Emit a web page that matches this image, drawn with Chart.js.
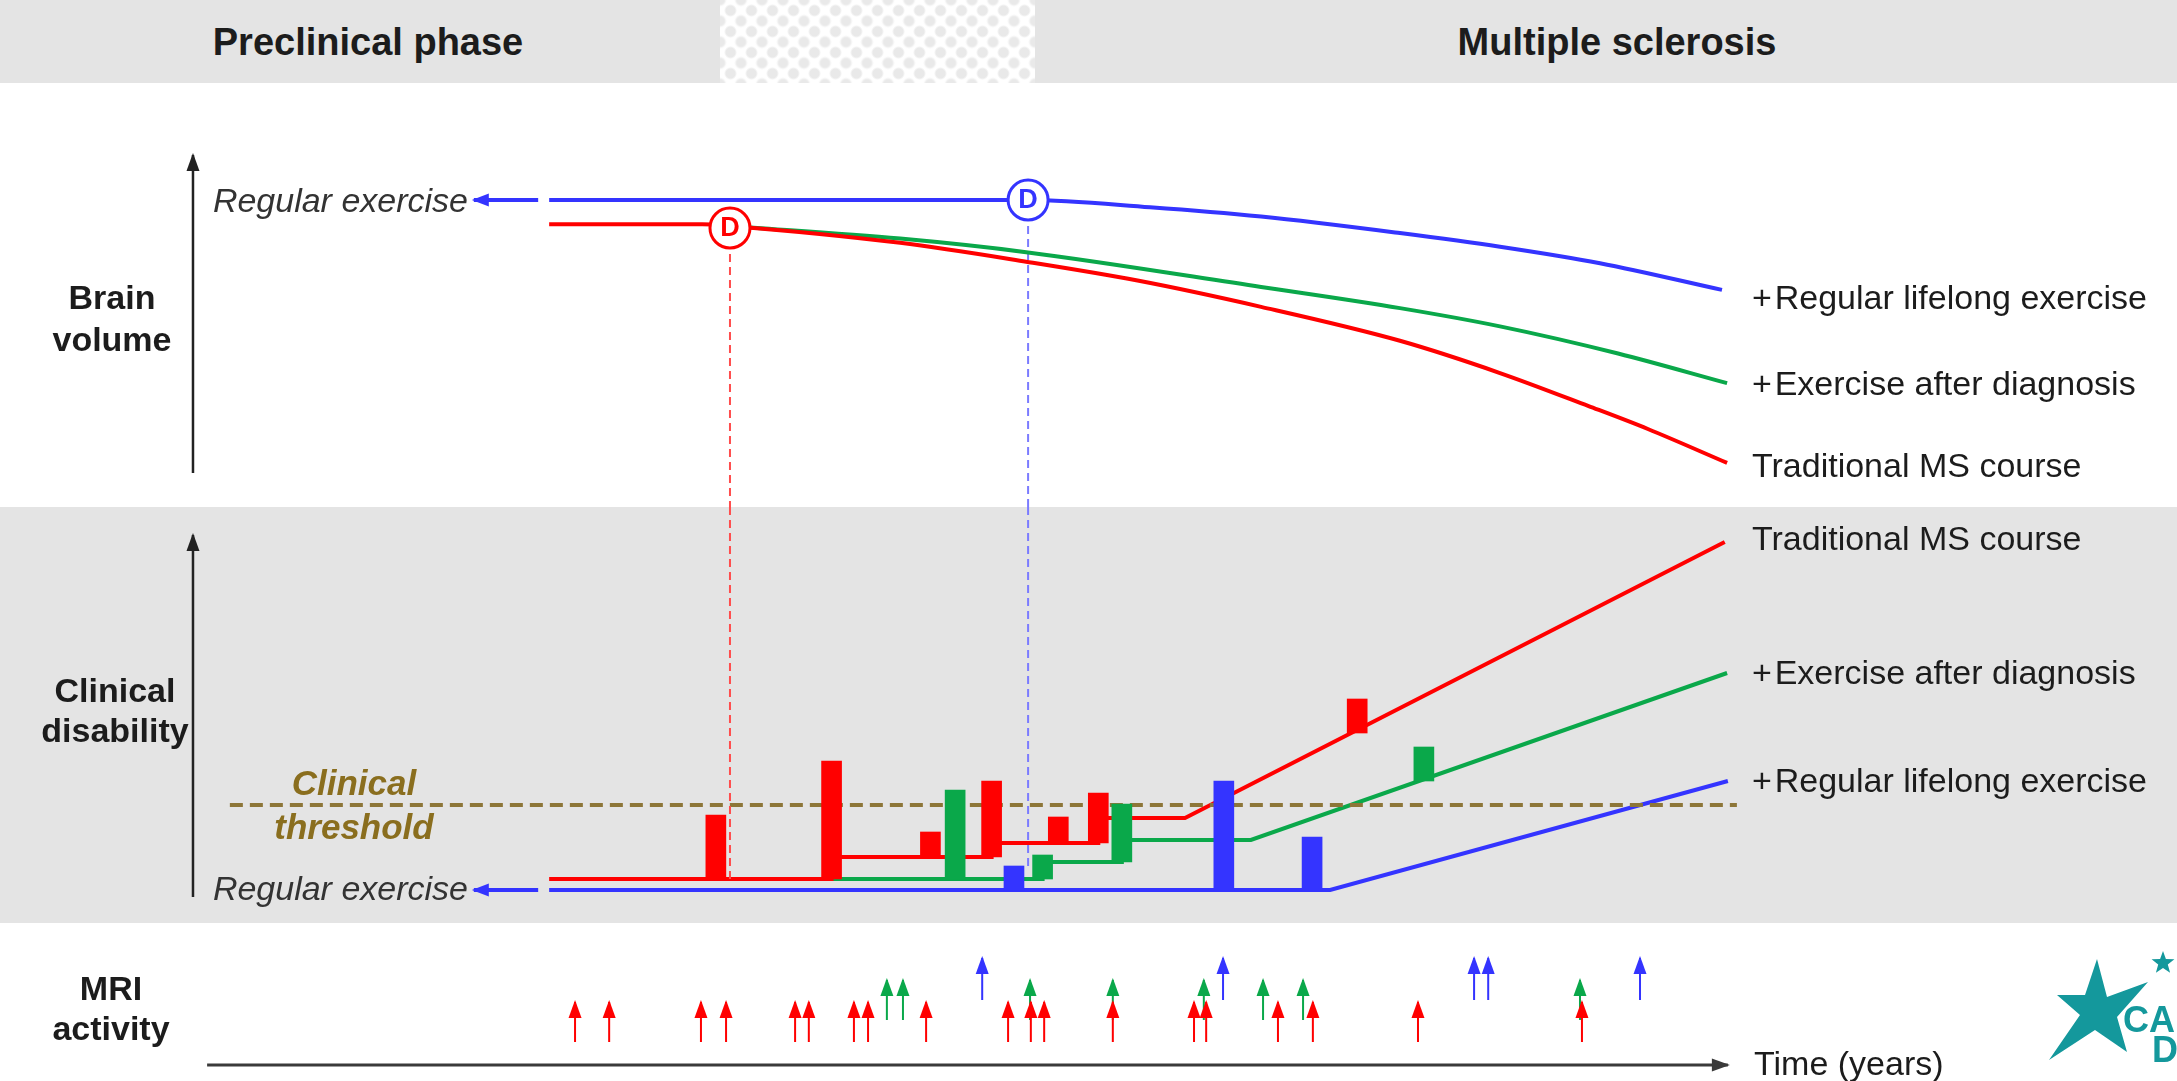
<!DOCTYPE html>
<html>
<head>
<meta charset="utf-8">
<title>Exercise and the course of multiple sclerosis</title>
<script src="https://cdn.jsdelivr.net/npm/chart.js@4.4.1/dist/chart.umd.min.js"></script>
<style>
  body { margin: 0; width: 2177px; height: 1081px; overflow: hidden; position: relative;
         background: #fff; font-family: "Liberation Sans", Arial, sans-serif; color: #1c1c1c; }
  .band { position: absolute; left: 0; width: 2177px; }
  #header { top: 0; height: 83px; background: #e4e4e4; }
  #hatch { position: absolute; top: 0; left: 720px; width: 315px; height: 83px; background-color: #fff;
           background-image: radial-gradient(circle, #e9e9e9 4.5px, rgba(255,255,255,0) 6.5px),
                             radial-gradient(circle, #e9e9e9 4.5px, rgba(255,255,255,0) 6.5px);
           background-size: 21px 21px; background-position: 0 0, 10.5px 10.5px; }
  #mid { top: 507px; height: 416px; background: #e4e4e4; }
  canvas { position: absolute; left: 0; }
  .lbl { position: absolute; white-space: nowrap; font-size: 34px; line-height: 1; }
  .b { font-weight: bold; font-size: 34px; }
  .i { font-style: italic; color: #333; }
  .c { transform: translate(-50%, -50%); text-align: center; }
  .l { transform: translateY(-50%); }
  .r { transform: translateY(-50%); text-align: right; }
  .thr { color: #8a6e1e; font-weight: bold; font-style: italic; font-size: 35px; line-height: 44px; }
  .logo { position: absolute; background: #14989c; }
  .logotxt { position: absolute; color: #14989c; font-weight: bold; font-size: 36px; line-height: 1; }
</style>
</head>
<body>
<div id="header" class="band"><div id="hatch"></div></div>
<div id="mid" class="band"></div>

<canvas id="brainChart" width="2177" height="424" style="top:83px"></canvas>
<canvas id="disabilityChart" width="2177" height="416" style="top:507px"></canvas>
<canvas id="mriChart" width="2177" height="158" style="top:923px"></canvas>

<div class="lbl b c" style="left:368px;top:42px;font-size:38px">Preclinical phase</div>
<div class="lbl b c" style="left:1617px;top:42px;font-size:38px">Multiple sclerosis</div>

<div class="lbl b c" style="left:112px;top:318px;line-height:42px">Brain<br>volume</div>
<div class="lbl b c" style="left:115px;top:710px;line-height:40px">Clinical<br>disability</div>
<div class="lbl b c" style="left:111px;top:1008px;line-height:40px">MRI<br>activity</div>

<div class="lbl i r" style="right:1709px;top:200px">Regular exercise</div>
<div class="lbl i r" style="right:1709px;top:888px">Regular exercise</div>
<div class="lbl thr c" style="left:354px;top:805px">Clinical<br>threshold</div>

<div class="lbl l" style="left:1752px;top:297px">+&#8202;Regular lifelong exercise</div>
<div class="lbl l" style="left:1752px;top:383px">+&#8202;Exercise after diagnosis</div>
<div class="lbl l" style="left:1752px;top:465px">Traditional MS course</div>
<div class="lbl l" style="left:1752px;top:538px">Traditional MS course</div>
<div class="lbl l" style="left:1752px;top:672px">+&#8202;Exercise after diagnosis</div>
<div class="lbl l" style="left:1752px;top:780px">+&#8202;Regular lifelong exercise</div>
<div class="lbl l" style="left:1754px;top:1063px">Time (years)</div>

<div class="logo" style="left:2040px;top:950px;width:120px;height:120px;
  clip-path:polygon(57px 9px,67px 47px,108px 32px,77px 67px,87px 102px,55px 80px,9px 110px,40px 65px,17px 45px,45px 45px)"></div>
<div class="logo" style="left:2151px;top:951px;width:24px;height:24px;
  clip-path:polygon(12px 0,14.9px 8px,23.4px 8.3px,16.8px 13.5px,19.1px 21.7px,12px 17px,4.9px 21.7px,7.2px 13.5px,0.6px 8.3px,9.1px 8px)"></div>
<div class="logotxt" style="left:2123px;top:1002px">CA</div>
<div class="logotxt" style="left:2152px;top:1032px">D</div>

<script>
// time in years (x), brain volume / disability / MRI in arbitrary units (y)
const X_MIN = -14, X_MAX = 41.5;

const RED = '#ff0000';
const GREEN = '#0aa84a';
const BLUE = '#3434ff';

// brain volume curves
const BRAIN_TRADITIONAL = [[0, 66.7], [3.9, 66.7], [4.61, 66.3], [8.95, 62.3], [12.16, 57.85], [15.0, 53.4], [18.15, 47.2], [21.69, 39.2], [24.24, 31.6], [26.5, 23.8], [28.01, 18.4], [30.03, 10.4]];
const BRAIN_AFTER_DIAGNOSIS = [[4.61, 66.3], [8.95, 63.3], [12.16, 60.1], [18.15, 51.9], [21.69, 46.9], [24.24, 42.6], [27.25, 36.2], [30.03, 29.2]];
const BRAIN_LIFELONG = [[0, 72.4], [12.21, 72.4], [15.32, 70.7], [18.15, 68.5], [21.69, 64.6], [24.24, 61.4], [26.79, 57.5], [29.9, 51.2]];

// diagnosis markers
const DIAG_RED = [4.61, 65.8];
const DIAG_BLUE = [12.21, 72.4];

// clinical disability paths
const DIS_TRADITIONAL = [[0, 4.4], [7.2, 4.4], [7.2, 6.6], [11.28, 6.6], [11.28, 8.0], [14.0, 8.0], [14.0, 10.5], [16.21, 10.5], [29.97, 38.1]];
const DIS_AFTER_DIAGNOSIS = [[7.2, 4.4], [12.58, 4.4], [12.58, 6.1], [14.6, 6.1], [14.6, 8.3], [17.89, 8.3], [30.03, 25.0]];
const DIS_LIFELONG = [[0, 3.3], [19.91, 3.3], [30.05, 14.2]];
const THRESHOLD = 11.8;
const THRESHOLD_SPAN = [-8.14, 30.28];

// relapses: [time, from, to]
const RELAPSE_RED = [[4.25, 4.4, 10.8], [7.2, 4.4, 16.2], [9.72, 6.6, 9.1], [11.28, 6.6, 14.2], [12.98, 8.0, 10.6], [14.0, 8.0, 13.0], [20.6, 19.0, 22.4]];
const RELAPSE_GREEN = [[10.35, 4.4, 13.3], [12.58, 4.4, 6.8], [14.6, 6.1, 11.9], [22.3, 14.2, 17.6]];
const RELAPSE_BLUE = [[11.85, 3.3, 5.7], [17.2, 3.3, 14.2], [19.45, 3.3, 8.6]];

// MRI activity
const MRI_RED = [0.66, 1.53, 3.87, 4.51, 6.27, 6.62, 7.77, 8.13, 9.61, 11.70, 12.28, 12.62, 14.37, 16.44, 16.75, 18.58, 19.47, 22.15, 26.33];
const MRI_GREEN = [8.61, 9.02, 12.26, 14.37, 16.69, 18.20, 19.22, 26.28];
const MRI_BLUE = [11.04, 17.18, 23.58, 23.94, 27.81];
const MRI_LEVELS = { red: [3.9, 7.9], green: [6.1, 10.1], blue: [8.1, 12.3] };

// axes
const AXIS_T = -9.08;
const BRAIN_AXIS = [8.0, 83.0];
const DIS_AXIS = [2.6, 38.8];
const TIME_AXIS = [-8.72, 30.05];
const TIME_AXIS_Y = 1.6;
const EXERCISE_ARROW = [-0.28, -1.92];

const pts = arr => arr.map(([x, y]) => ({ x, y }));

function arrowSegments(times, base, tip) {
    const out = [];
    times.forEach(t => {
        out.push({ x: t, y: base }, { x: t, y: tip }, { x: t, y: null });
    });
    return out;
}

// filled triangle at the end of every line segment of a dataset that has `head`
const arrowHeads = {
    id: 'arrowHeads',
    afterDatasetsDraw(chart) {
        const ctx = chart.ctx;
        chart.data.datasets.forEach((ds, i) => {
            if (!ds.head) return;
            const els = chart.getDatasetMeta(i).data;
            ctx.save();
            ctx.fillStyle = ds.head.color || ds.borderColor;
            for (let k = 1; k < els.length; k++) {
                const p = els[k], q = els[k - 1];
                if (p.skip || q.skip) continue;
                if (k + 1 < els.length && !els[k + 1].skip) continue;
                const dx = p.x - q.x, dy = p.y - q.y;
                const len = Math.hypot(dx, dy) || 1;
                const ux = dx / len, uy = dy / len;
                const bx = p.x - ux * ds.head.len, by = p.y - uy * ds.head.len;
                const hw = ds.head.width / 2;
                ctx.beginPath();
                ctx.moveTo(p.x + ux * 2, p.y + uy * 2);
                ctx.lineTo(bx - uy * hw, by + ux * hw);
                ctx.lineTo(bx + uy * hw, by - ux * hw);
                ctx.closePath();
                ctx.fill();
            }
            ctx.restore();
        });
    }
};

// letter inside the diagnosis circles
const diagLetters = {
    id: 'diagLetters',
    afterDatasetsDraw(chart) {
        const ctx = chart.ctx;
        chart.data.datasets.forEach((ds, i) => {
            if (!ds.letter) return;
            ctx.save();
            ctx.font = 'bold 27px "Liberation Sans", Arial, sans-serif';
            ctx.textAlign = 'center';
            ctx.textBaseline = 'middle';
            ctx.fillStyle = ds.borderColor;
            chart.getDatasetMeta(i).data.forEach(p => ctx.fillText(ds.letter, p.x, p.y + 1));
            ctx.restore();
        });
    }
};

function baseOptions(yMin, yMax) {
    return {
        responsive: false,
        animation: false,
        events: [],
        layout: { padding: 0, autoPadding: false },
        plugins: { legend: { display: false }, tooltip: { enabled: false } },
        elements: { point: { radius: 0 }, line: { tension: 0, borderCapStyle: 'butt', fill: false } },
        datasets: { bar: { grouped: false, barThickness: 20, borderWidth: 0 } },
        scales: {
            x: { type: 'linear', min: X_MIN, max: X_MAX, display: false, offset: false },
            y: { type: 'linear', min: yMin, max: yMax, display: false }
        }
    };
}

function curve(data, color) {
    return { type: 'line', data: pts(data), borderColor: color, borderWidth: 4, cubicInterpolationMode: 'monotone' };
}

function steps(data, color) {
    return { type: 'line', data: pts(data), borderColor: color, borderWidth: 4 };
}

function drop(t, from, to, color) {
    return { type: 'line', data: pts([[t, from], [t, to]]), borderColor: color, borderWidth: 2, borderDash: [8, 5] };
}

function diag(p, color) {
    return {
        type: 'line', showLine: false, data: pts([p]), letter: 'D',
        borderColor: color, pointRadius: 20, pointBorderWidth: 3,
        pointBackgroundColor: '#fff', pointBorderColor: color
    };
}

function relapses(list, color) {
    return { type: 'bar', data: list.map(([x, a, b]) => ({ x, y: [a, b] })), backgroundColor: color };
}

function arrow(data, color, width, len, headW) {
    return { type: 'line', data, borderColor: color, borderWidth: width, head: { len, width: headW, color } };
}

// brain volume panel
new Chart(document.getElementById('brainChart'), {
    type: 'line',
    data: {
        datasets: [
            diag(DIAG_RED, RED),
            diag(DIAG_BLUE, BLUE),
            curve(BRAIN_TRADITIONAL, RED),
            curve(BRAIN_AFTER_DIAGNOSIS, GREEN),
            curve(BRAIN_LIFELONG, BLUE),
            drop(DIAG_RED[0], DIAG_RED[1], 0, '#ff4d4d'),
            drop(DIAG_BLUE[0], DIAG_BLUE[1], 0, '#7b7bff'),
            arrow(pts(EXERCISE_ARROW.map(t => [t, BRAIN_LIFELONG[0][1]])), BLUE, 4, 15, 13),
            arrow(pts(BRAIN_AXIS.map(v => [AXIS_T, v])), '#222', 2.5, 16, 13)
        ]
    },
    options: baseOptions(0, 100),
    plugins: [arrowHeads, diagLetters]
});

// clinical disability panel
new Chart(document.getElementById('disabilityChart'), {
    type: 'line',
    data: {
        datasets: [
            drop(DIAG_RED[0], 41.6, DIS_TRADITIONAL[0][1], '#ff4d4d'),
            drop(DIAG_BLUE[0], 41.6, RELAPSE_BLUE[0][2], '#7b7bff'),
            relapses(RELAPSE_RED, RED),
            relapses(RELAPSE_GREEN, GREEN),
            relapses(RELAPSE_BLUE, BLUE),
            {
                type: 'line', data: pts(THRESHOLD_SPAN.map(t => [t, THRESHOLD])),
                borderColor: '#8d7638', borderWidth: 4, borderDash: [13, 7]
            },
            steps(DIS_TRADITIONAL, RED),
            steps(DIS_AFTER_DIAGNOSIS, GREEN),
            steps(DIS_LIFELONG, BLUE),
            arrow(pts(EXERCISE_ARROW.map(t => [t, DIS_LIFELONG[0][1]])), BLUE, 4, 15, 13),
            arrow(pts(DIS_AXIS.map(v => [AXIS_T, v])), '#222', 2.5, 16, 13)
        ]
    },
    options: baseOptions(0, 41.6),
    plugins: [arrowHeads]
});

// MRI activity panel
new Chart(document.getElementById('mriChart'), {
    type: 'line',
    data: {
        datasets: [
            arrow(arrowSegments(MRI_RED, ...MRI_LEVELS.red), RED, 2, 16, 13),
            arrow(arrowSegments(MRI_GREEN, ...MRI_LEVELS.green), GREEN, 2, 16, 13),
            arrow(arrowSegments(MRI_BLUE, ...MRI_LEVELS.blue), BLUE, 2, 16, 13),
            arrow(pts(TIME_AXIS.map(t => [t, TIME_AXIS_Y])), '#3a3a3a', 3, 16, 13)
        ]
    },
    options: baseOptions(0, 15.8),
    plugins: [arrowHeads]
});
</script>
</body>
</html>
